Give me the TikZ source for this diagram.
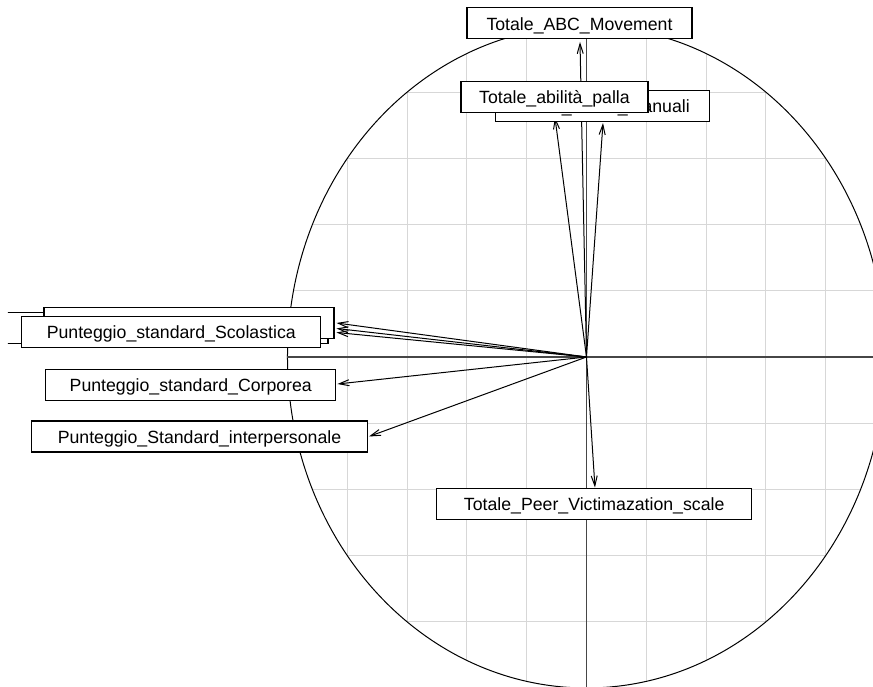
\documentclass[tikz,border=0pt]{standalone}
\usepackage{fontspec}
\setmainfont{Liberation Sans}
\usetikzlibrary{arrows.meta,calc}
\definecolor{gridgray}{RGB}{215,215,215}
\definecolor{axisgray}{RGB}{70,70,70}

\tikzset{
    varlabel/.style={rectangle, draw=black, fill=white, line width=0.6pt, inner xsep=0pt, inner ysep=0pt,
        minimum height=15.5pt, minimum width=#1, text height=0.85em, text depth=0.17em,
        font=\fontsize{8.85}{10}\selectfont},
    vec/.style={line width=0.5pt, -{Straight Barb[length=5pt,width=3pt]}}
}

\begin{document}
\begin{tikzpicture}[x=149.5pt, y=165.5pt]
    \clip (-1.9615,-0.9940) rectangle (0.9582,1.0785);

    % Grid inside the unit circle
    \foreach \g in {-0.8,-0.6,-0.4,-0.2,0.2,0.4,0.6,0.8} {
        \pgfmathsetmacro\h{sqrt(1-\g*\g)}
        \draw[gridgray, line width=0.5pt] (-\h,\g) -- (\h,\g);
        \draw[gridgray, line width=0.5pt] (\g,-\h) -- (\g,\h);
    }

    % Correlation circle and axes
    \draw[line width=0.5pt] (0,0) circle [radius=1];
    \draw[axisgray, line width=0.6pt] (-1,0) -- (1,0);
    \draw[axisgray, line width=0.6pt] (0,-1) -- (0,1);

    % Vectors
    \coordinate (o) at (0,0);
    \coordinate (tABC) at (-0.0217,0.9517);
    \coordinate (tMan) at (0.0552,0.7069);
    \coordinate (tPal) at (-0.1054,0.7236);
    \coordinate (tScA) at (-0.8361,0.1027);
    \coordinate (tScB) at (-0.8361,0.0861);
    \coordinate (tScC) at (-0.8361,0.0740);
    \coordinate (tCor) at (-0.8328,-0.0816);
    \coordinate (tInt) at (-0.7274,-0.2402);
    \coordinate (tPeer) at (0.0284,-0.3943);

    \draw[vec] (o) -- (tABC);
    \draw[vec] (o) -- (tMan);
    \draw[vec] (o) -- (tPal);
    \draw[vec] (o) -- (tScA);
    \draw[vec] (o) -- (tScB);
    \draw[vec] (o) -- (tScC);
    \draw[vec] (o) -- (tCor);
    \draw[vec] (o) -- (tInt);
    \draw[vec] (o) -- (tPeer);

    % Labels
    \node[varlabel=112.5pt] (abc) at (-0.0234,1.0082) {Totale\_ABC\_Movement};
    \node[varlabel=107pt] (manuali) at (0.0525,0.7583) {Totale\_abilità\_manuali};
    \node[varlabel=93.5pt] (palla) at (-0.1070,0.7849) {Totale\_abilità\_palla};
    \node[varlabel=157.5pt] (peer) at (0.0258,-0.4447) {Totale\_Peer\_Victimazation\_scale};

    \begin{scope}
        \clip (-1.9348,-0.2) rectangle (0,0.3);
        \node[varlabel=170pt] (hiddenB) at (-1.4331,0.0876) {};
    \end{scope}
    \node[varlabel=145pt] (hiddenA) at (-1.3294,0.1035) {};
    \node[varlabel=149.5pt] (scolastica) at (-1.3886,0.0761) {Punteggio\_standard\_Scolastica};
    \node[varlabel=145pt] (corporea) at (-1.3234,-0.0846) {Punteggio\_standard\_Corporea};
    \node[varlabel=168pt] (interpersonale) at (-1.2943,-0.2402) {Punteggio\_Standard\_interpersonale};
\end{tikzpicture}
\end{document}
